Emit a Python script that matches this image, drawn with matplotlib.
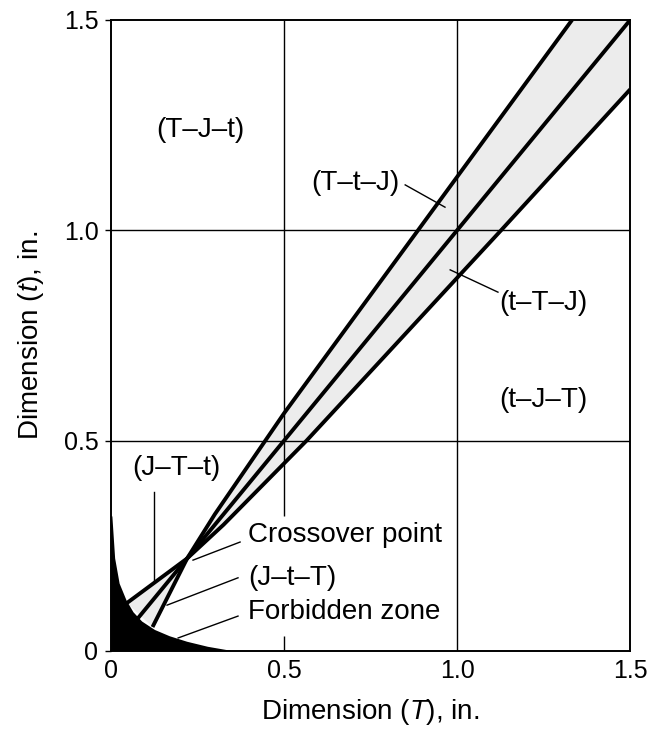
import matplotlib
matplotlib.use("Agg")
import matplotlib.pyplot as plt

plt.rcParams['font.family'] = ['Liberation Sans', 'DejaVu Sans']
plt.rcParams['mathtext.fontset'] = 'custom'
plt.rcParams['mathtext.rm'] = 'Liberation Sans'
plt.rcParams['mathtext.it'] = 'Liberation Sans:italic'

# Boundary curves (T, t) in inches
upper_T = [0.12, 0.22, 0.30, 0.40, 0.50, 0.70, 0.887, 1.00, 1.332]
upper_t = [0.057, 0.22, 0.325, 0.445, 0.565, 0.79, 1.00, 1.127, 1.50]
lower_T = [0.046, 0.22, 0.325, 0.445, 0.565, 0.79, 1.00, 1.127, 1.50]
lower_t = [0.114, 0.22, 0.30, 0.40, 0.50, 0.70, 0.887, 1.00, 1.335]
equal_T = [0.078, 1.50]
equal_t = [0.078, 1.50]

# Forbidden zone outline
forbid_T = [0.0, 0.004, 0.012, 0.025, 0.045, 0.065, 0.09, 0.127, 0.17, 0.22, 0.28, 0.35]
forbid_t = [0.32, 0.32, 0.22, 0.16, 0.12, 0.092, 0.07, 0.05, 0.035, 0.022, 0.01, 0.0]

ticks = [0, 0.5, 1.0, 1.5]
tick_labels = ['0', '0.5', '1.0', '1.5']

fig = plt.figure(figsize=(6.49, 7.29), dpi=100)
ax = fig.add_axes([0.171, 0.107, 0.800, 0.8656])
ax.set_xlim(0, 1.5)
ax.set_ylim(0, 1.5)

fs_tick = 18
fs_note = 20
fs_label = 20
band = '#ececec'

# Shaded tolerance band above the crossover
cross = 1
band_T = upper_T[cross:] + [1.5, 1.5] + lower_T[cross:][::-1]
band_t = upper_t[cross:] + [1.5, lower_t[-1]] + lower_t[cross:][::-1]
ax.fill(band_T, band_t, color=band, zorder=1, lw=0)
# Shaded wedge below the crossover
ax.fill([upper_T[cross], lower_T[0], upper_T[0]],
        [upper_t[cross], lower_t[0], upper_t[0]], color=band, zorder=1, lw=0)

# Grid (the T = 0.5 line is broken where the lower notes sit)
ax.axhline(0.5, color='black', lw=1.0, zorder=2)
ax.axhline(1.0, color='black', lw=1.0, zorder=2)
ax.axvline(1.0, color='black', lw=1.0, zorder=2)
ax.vlines([0.5, 0.5], [0.0, 0.32], [0.035, 1.5], color='black', lw=1.0, zorder=2)

# Forbidden zone
ax.fill([0.0] + forbid_T + [0.0], [0.0] + forbid_t + [0.0],
        color='black', zorder=3, lw=0)

# Boundary lines
for xs, ys in [(upper_T, upper_t), (lower_T, lower_t), (equal_T, equal_t)]:
    ax.plot(xs, ys, color='black', lw=2.8, zorder=6,
            solid_joinstyle='round', solid_capstyle='butt')

# Region labels
ax.text(0.257, 1.238, '(T\u2013J\u2013t)', fontsize=fs_note, ha='center', va='center')
ax.text(0.705, 1.112, '(T\u2013t\u2013J)', fontsize=fs_note, ha='center', va='center')
ax.text(1.249, 0.827, '(t\u2013T\u2013J)', fontsize=fs_note, ha='center', va='center')
ax.text(1.249, 0.597, '(t\u2013J\u2013T)', fontsize=fs_note, ha='center', va='center')
ax.text(0.19, 0.435, '(J\u2013T\u2013t)', fontsize=fs_note, ha='center', va='center')

ax.text(0.396, 0.276, 'Crossover point', fontsize=fs_note, ha='left', va='center',
        zorder=5)
ax.text(0.396, 0.174, '(J\u2013t\u2013T)', fontsize=fs_note, ha='left', va='center',
        zorder=5)
ax.text(0.396, 0.093, 'Forbidden zone', fontsize=fs_note, ha='left', va='center',
        zorder=5)

# Leader lines
leaders = [
    ((0.85, 0.965), (1.108, 1.055)),
    ((1.118, 0.98), (0.853, 0.906)),
    ((0.123, 0.123), (0.378, 0.165)),
    ((0.373, 0.237), (0.259, 0.216)),
    ((0.367, 0.162), (0.174, 0.109)),
    ((0.367, 0.194), (0.083, 0.031)),
]
for xs, ys in leaders:
    ax.plot(xs, ys, color='black', lw=1.0, zorder=7)

ax.set_xticks(ticks)
ax.set_xticklabels(tick_labels)
ax.set_yticks(ticks)
ax.set_yticklabels(tick_labels)
ax.tick_params(axis='x', direction='out', length=0, labelsize=fs_tick, pad=6)
ax.tick_params(axis='y', direction='out', length=4, width=1, labelsize=fs_tick, pad=5)
for s in ax.spines.values():
    s.set_linewidth(1.4)
    s.set_zorder(8)

ax.set_xlabel('Dimension ($\\mathit{T}$), in.', fontsize=fs_label, labelpad=10)
ax.set_ylabel('Dimension ($\\mathit{t}$), in.', fontsize=fs_label, labelpad=13)

fig.savefig('out.png', dpi=100, facecolor='white')
